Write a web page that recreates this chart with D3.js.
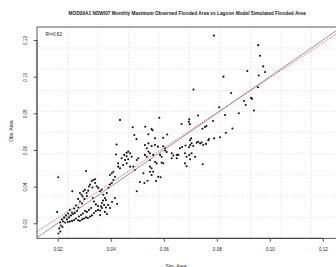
<!DOCTYPE html>
<html><head><meta charset="utf-8">
<script src="https://cdn.jsdelivr.net/npm/d3@7"></script>
<style>
html,body{margin:0;padding:0;background:#fff;}
svg{display:block;font-family:"Liberation Sans",Arial,Helvetica,sans-serif;}
</style></head>
<body>
<script>
const titleText = "MOD09A1 NDWI07 Monthly Maximum Observed Flooded Area vs Lagoon Model Simulated Flooded Area";
const xLabel = "Sim. Area";
const yLabel = "Obs. Area";
const r2Text = "R\u00B2=0.82";
const xTicks = [0.02, 0.04, 0.06, 0.08, 0.10, 0.12];
const yTicks = [0.02, 0.04, 0.06, 0.08, 0.10, 0.12];
const tickLabels = ["0.02", "0.04", "0.06", "0.08", "0.10", "0.12"];
const fitIntercept = 0.00374;
const fitSlope = 0.956;

const simArea = [
0.0789,0.0956,0.0963,0.0975,0.0982,0.0915,0.0958,0.0825,0.0712,0.0854,
0.0955,0.0929,0.0933,0.0903,0.0909,0.0809,0.0940,0.0883,0.0831,0.0729,
0.0583,0.0696,0.0694,0.0698,0.0667,0.0786,0.0761,0.0755,0.0746,0.0859,
0.0834,0.0812,0.0790,0.0770,0.0703,0.0435,0.0483,0.0530,0.0554,0.0558,
0.0542,0.0489,0.0497,0.0613,0.0598,0.0567,
0.0422,0.0420,0.0466,0.0460,0.0473,0.0451,0.0460,0.0441,0.0454,0.0466,
0.0428,0.0447,0.0460,0.0473,0.0435,0.0479,0.0485,0.0491,0.0416,0.0529,
0.0542,0.0554,0.0567,0.0578,0.0598,0.0536,0.0542,0.0605,0.0529,0.0536,
0.0548,0.0560,0.0586,0.0592,0.0605,0.0611,0.0630,0.0636,0.0649,0.0661,
0.0669,0.0682,0.0680,0.0686,0.0699,0.0695,0.0567,0.0573,0.0548,0.0554,
0.0498,0.0504,0.0592,0.0598,0.0680,0.0686,0.0548,0.0554,0.0579,0.0523,
0.0699,0.0705,0.0711,0.0724,0.0730,0.0737,0.0743,0.0749,0.0759,0.0768,
0.0696,0.0705,0.0718,0.0699,0.0747,0.0655,0.0649,0.0630,0.0560,0.0571,
0.0588,0.0510,0.0527,0.0539,0.0498,0.0548,
0.0202,0.0307,0.0428,0.0397,0.0404,0.0410,0.0341,0.0255,0.0198,0.0284,
0.0290,0.0294,0.0297,0.0303,0.0309,0.0315,0.0322,0.0328,0.0334,0.0341,
0.0347,0.0353,0.0360,0.0366,0.0372,0.0378,0.0385,0.0391,0.0397,0.0404,
0.0410,0.0318,0.0331,0.0310,0.0301,0.0277,0.0284,0.0292,0.0269,0.0278,
0.0262,0.0246,0.0254,0.0239,0.0231,0.0224,0.0216,0.0220,0.0209,0.0212,
0.0206,0.0210,0.0203,0.0218,0.0228,0.0235,0.0243,0.0250,0.0258,0.0265,
0.0273,0.0269,0.0277,0.0284,0.0292,0.0299,0.0307,0.0314,0.0322,0.0329,
0.0337,0.0344,0.0352,0.0360,0.0367,0.0375,0.0363,0.0371,0.0352,0.0344,
0.0337,0.0333,0.0326,0.0318,0.0310,0.0303,0.0295,0.0288,0.0280,0.0262,
0.0254,0.0246,0.0239,0.0378,0.0386,0.0360,0.0367,0.0382,0.0390,0.0397,
0.0405,0.0382,0.0416,0.0424
];
const obsArea = [
0.1224,0.1172,0.1114,0.1056,0.1025,0.1031,0.1006,0.1000,0.0930,0.0911,
0.0942,0.0884,0.0879,0.0867,0.0845,0.0833,0.0815,0.0800,0.0791,0.0788,
0.0776,0.0767,0.0754,0.0741,0.0742,0.0758,0.0731,0.0725,0.0716,0.0717,
0.0694,0.0669,0.0663,0.0660,0.0663,0.0764,0.0724,0.0727,0.0714,0.0708,
0.0686,0.0682,0.0659,0.0684,0.0666,0.0664,
0.0630,0.0575,0.0591,0.0585,0.0582,0.0573,0.0566,0.0555,0.0545,0.0549,
0.0527,0.0518,0.0527,0.0509,0.0500,0.0563,0.0509,0.0491,0.0454,0.0627,
0.0636,0.0622,0.0627,0.0618,0.0620,0.0609,0.0591,0.0609,0.0573,0.0563,
0.0582,0.0573,0.0573,0.0563,0.0597,0.0589,0.0582,0.0570,0.0573,0.0609,
0.0616,0.0624,0.0582,0.0563,0.0627,0.0615,0.0536,0.0527,0.0509,0.0500,
0.0545,0.0555,0.0531,0.0527,0.0527,0.0511,0.0481,0.0463,0.0454,0.0473,
0.0653,0.0636,0.0622,0.0640,0.0645,0.0636,0.0641,0.0627,0.0633,0.0653,
0.0573,0.0582,0.0563,0.0549,0.0522,0.0573,0.0555,0.0555,0.0481,0.0431,
0.0451,0.0425,0.0420,0.0432,0.0375,0.0545,
0.0451,0.0485,0.0509,0.0463,0.0473,0.0481,0.0440,0.0375,0.0262,0.0365,
0.0356,0.0346,0.0375,0.0383,0.0365,0.0378,0.0411,0.0429,0.0436,0.0420,
0.0402,0.0393,0.0375,0.0383,0.0356,0.0338,0.0365,0.0393,0.0411,0.0420,
0.0436,0.0401,0.0395,0.0349,0.0333,0.0333,0.0319,0.0308,0.0297,0.0286,
0.0281,0.0273,0.0259,0.0253,0.0243,0.0232,0.0221,0.0210,0.0204,0.0188,
0.0172,0.0155,0.0144,0.0180,0.0204,0.0221,0.0232,0.0243,0.0251,0.0256,
0.0267,0.0226,0.0216,0.0214,0.0221,0.0226,0.0232,0.0229,0.0237,0.0243,
0.0256,0.0267,0.0273,0.0270,0.0283,0.0300,0.0292,0.0324,0.0294,0.0303,
0.0319,0.0338,0.0283,0.0273,0.0262,0.0267,0.0253,0.0245,0.0237,0.0218,
0.0213,0.0210,0.0207,0.0262,0.0251,0.0245,0.0311,0.0327,0.0300,0.0283,
0.0316,0.0286,0.0338,0.0305
];

const W = 336, H = 267;
const plot = {left: 37, right: 342, top: 27, bottom: 238.3};
const xDomain = [0.0122, 0.1272];
const yDomain = [0.0118, 0.1271];

const x = d3.scaleLinear().domain(xDomain).range([plot.left, plot.right]);
const y = d3.scaleLinear().domain(yDomain).range([plot.bottom, plot.top]);

const svg = d3.select("body").append("svg").attr("width", W).attr("height", H);

svg.append("defs").append("clipPath").attr("id", "clip")
  .append("rect").attr("x", plot.left).attr("y", plot.top)
  .attr("width", plot.right - plot.left).attr("height", plot.bottom - plot.top);

// grid (10 x 10 equal divisions)
const g = svg.append("g").attr("clip-path", "url(#clip)");
const gx = d3.range(1, 10).map(i => xDomain[0] + i * (xDomain[1] - xDomain[0]) / 10);
const gy = d3.range(1, 10).map(i => yDomain[0] + i * (yDomain[1] - yDomain[0]) / 10);
g.selectAll(".gv").data(gx).join("line")
  .attr("x1", d => x(d)).attr("x2", d => x(d))
  .attr("y1", plot.top).attr("y2", plot.bottom)
  .attr("stroke", "#d6d6d6").attr("stroke-width", 0.7).attr("stroke-dasharray", "1,1.5");
g.selectAll(".gh").data(gy).join("line")
  .attr("y1", d => y(d)).attr("y2", d => y(d))
  .attr("x1", plot.left).attr("x2", plot.right)
  .attr("stroke", "#d6d6d6").attr("stroke-width", 0.7).attr("stroke-dasharray", "1,1.5");

// points
g.selectAll("circle").data(simArea.map((v, i) => [v, obsArea[i]])).join("circle")
  .attr("cx", d => x(d[0])).attr("cy", d => y(d[1])).attr("r", 1.05)
  .attr("fill", "#111");

// 1:1 line
g.append("line")
  .attr("x1", x(xDomain[0])).attr("y1", y(xDomain[0]))
  .attr("x2", x(xDomain[1])).attr("y2", y(xDomain[1]))
  .attr("stroke", "#8a8a8a").attr("stroke-width", 0.9);
// regression line
g.append("line")
  .attr("x1", x(xDomain[0])).attr("y1", y(fitIntercept + fitSlope * xDomain[0]))
  .attr("x2", x(xDomain[1])).attr("y2", y(fitIntercept + fitSlope * xDomain[1]))
  .attr("stroke", "#e05050").attr("stroke-width", 0.8).attr("stroke-dasharray", "1.5,1");

// box
svg.append("rect").attr("x", plot.left).attr("y", plot.top)
  .attr("width", plot.right - plot.left).attr("height", plot.bottom - plot.top)
  .attr("fill", "none").attr("stroke", "#333").attr("stroke-width", 0.8);

// x axis
const xAxis = d3.axisBottom(x).tickValues(xTicks).tickSize(3.5).tickFormat((d, i) => tickLabels[i]);
const ax = svg.append("g").attr("transform", `translate(0,${plot.bottom})`).call(xAxis);
ax.select(".domain").attr("d", `M${x(xTicks[0])},0H${x(xTicks[xTicks.length-1])}`).attr("stroke", "#333").attr("stroke-width", 0.8);
ax.selectAll(".tick line").attr("stroke", "#333").attr("stroke-width", 0.8);
ax.selectAll(".tick text").attr("y", 13).attr("dy", 0).attr("font-size", 4.6).attr("fill", "#222")
  .attr("font-family", "'Liberation Sans',Arial,sans-serif");

// y axis
const yAxis = d3.axisLeft(y).tickValues(yTicks).tickSize(3.5).tickFormat((d, i) => tickLabels[i]);
const ay = svg.append("g").attr("transform", `translate(${plot.left},0)`).call(yAxis);
ay.select(".domain").attr("d", `M0,${y(yTicks[0])}V${y(yTicks[yTicks.length-1])}`).attr("stroke", "#333").attr("stroke-width", 0.8);
ay.selectAll(".tick line").attr("stroke", "#333").attr("stroke-width", 0.8);
ay.selectAll(".tick text").attr("x", 0).attr("dy", 0).attr("text-anchor", "middle")
  .attr("transform", "translate(-9.7,0) rotate(-90)")
  .attr("font-size", 4.6).attr("fill", "#222")
  .attr("font-family", "'Liberation Sans',Arial,sans-serif");

// title
svg.append("text").attr("x", 187).attr("y", 14.5).attr("text-anchor", "middle")
  .attr("font-size", 4.8).attr("font-weight", "bold").attr("fill", "#222").text(titleText);

// axis labels
svg.append("text").attr("x", 176).attr("y", 267.5).attr("text-anchor", "middle")
  .attr("font-size", 4.8).attr("fill", "#222").text(xLabel);
svg.append("text").attr("transform", "translate(13,131) rotate(-90)").attr("text-anchor", "middle")
  .attr("font-size", 4.8).attr("fill", "#222").text(yLabel);

// R2 label
svg.append("text").attr("x", 45.5).attr("y", 36).attr("font-size", 4.6).attr("fill", "#222").text(r2Text);
</script>
</body></html>
